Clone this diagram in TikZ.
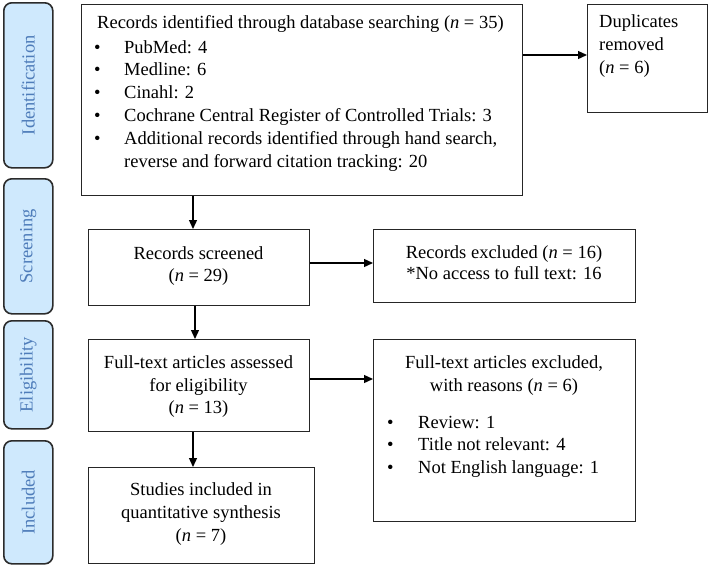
\documentclass[tikz,border=0pt]{standalone}
\usepackage{fontspec}
\setmainfont{Liberation Serif}
\usetikzlibrary{arrows.meta}
\definecolor{stagefill}{HTML}{CFE9FD}
\definecolor{stagetext}{HTML}{4F7DBA}
\definecolor{stagedraw}{HTML}{2B2B2B}
\definecolor{boxdraw}{HTML}{262626}
\newcommand{\diagfont}{\fontsize{18.5}{23}\selectfont}
\tikzset{
  stage/.style={draw=stagedraw, line width=1.6pt, fill=stagefill, rounded corners=8pt,
    anchor=north west, minimum width=49pt, inner sep=0pt},
  stagelabel/.style={text=stagetext, rotate=90, inner sep=0pt},
  box/.style={draw=boxdraw, line width=1.3pt, anchor=north west, inner sep=0pt},
  txt/.style={inner sep=0pt},
  arr/.style={line width=1.3pt, -{Triangle[length=9pt,width=8pt]}},
}
\begin{document}
\begin{tikzpicture}[x=1pt,y=-1pt,font=\diagfont]
\useasboundingbox (0,0) rectangle (709,565);
% stage labels
\node[stage, minimum height=165pt] (sid) at (3,2) {};
\node[stagelabel] (sidt) at (sid.center) {Identification};
\node[stage, minimum height=135pt] (sscr) at (3,178) {};
\node[stagelabel] (sscrt) at (sscr.center) {Screening};
\node[stage, minimum height=108pt] (selg) at (3,320) {};
\node[stagelabel] (selgt) at (selg.center) {Eligibility};
\node[stage, minimum height=123pt] (sinc) at (3,440) {};
\node[stagelabel] (sinct) at (sinc.center) {Included};
% boxes
\node[box, minimum width=441pt, minimum height=191pt] (id) at (81,4) {};
\node[box, minimum width=120pt, minimum height=108pt] (dup) at (587,4) {};
\node[box, minimum width=221pt, minimum height=76pt] (scr) at (88,229) {};
\node[box, minimum width=262pt, minimum height=73pt] (exc) at (373,229) {};
\node[box, minimum width=221pt, minimum height=92pt] (ft) at (88,339) {};
\node[box, minimum width=262pt, minimum height=182pt] (ftx) at (373,339) {};
\node[box, minimum width=226pt, minimum height=96pt] (inc) at (88,467) {};
% identification text
\node[txt, anchor=base west] (id0) at (97,28) {Records identified through database searching (\textit{n} = 35)};
\foreach \y/\t [count=\i] in {53/{PubMed: 4},75.5/{Medline: 6},98.5/{Cinahl: 2},121.5/{Cochrane Central Register of Controlled Trials: 3},144.5/{Additional records identified through hand search,}}{
  \node[txt, anchor=base west] (idb\i) at (94,\y) {\textbullet};
  \node[txt, anchor=base west] (idt\i) at (124,\y) {\t};
}
\node[txt, anchor=base west] (idt6) at (124,167) {reverse and forward citation tracking: 20};
% duplicates
\node[txt, anchor=base west] (dup1) at (599,27) {Duplicates};
\node[txt, anchor=base west] (dup2) at (599,50) {removed};
\node[txt, anchor=base west] (dup3) at (599,73) {(\textit{n} = 6)};
% screened
\node[txt, anchor=base] (scr1) at (198.5,259) {Records screened};
\node[txt, anchor=base] (scr2) at (198.5,281) {(\textit{n} = 29)};
% excluded
\node[txt, anchor=base] (exc1) at (504,258) {Records excluded (\textit{n} = 16)};
\node[txt, anchor=base] (exc2) at (504,279) {*No access to full text: 16};
% full text
\node[txt, anchor=base] (ft1) at (198.5,368) {Full-text articles assessed};
\node[txt, anchor=base] (ft2) at (198.5,391) {for eligibility};
\node[txt, anchor=base] (ft3) at (198.5,413) {(\textit{n} = 13)};
% full text excluded
\node[txt, anchor=base] (ftx1) at (504,368) {Full-text articles excluded,};
\node[txt, anchor=base] (ftx2) at (504,391) {with reasons (\textit{n} = 6)};
\foreach \y/\t [count=\i] in {428/{Review: 1},450.5/{Title not relevant: 4},473/{Not English language: 1}}{
  \node[txt, anchor=base west] (ftxb\i) at (387,\y) {\textbullet};
  \node[txt, anchor=base west] (ftxt\i) at (418,\y) {\t};
}
% included
\node[txt, anchor=base] (inc1) at (201,495) {Studies included in};
\node[txt, anchor=base] (inc2) at (201,518) {quantitative synthesis};
\node[txt, anchor=base] (inc3) at (201,541) {(\textit{n} = 7)};
% connectors
\coordinate (y55) at (0,55);
\coordinate (y263) at (0,263);
\coordinate (y379) at (0,379);
\coordinate (x193) at (193,0);
\coordinate (x195) at (195,0);
\draw[arr] (id.east |- y55) -- (dup.west |- y55);
\draw[arr] (x193 |- id.south) -- (x193 |- scr.north);
\draw[arr] (scr.east |- y263) -- (exc.west |- y263);
\draw[arr] (x195 |- scr.south) -- (x195 |- ft.north);
\draw[arr] (ft.east |- y379) -- (ftx.west |- y379);
\draw[arr] (x193 |- ft.south) -- (x193 |- inc.north);
\end{tikzpicture}
\end{document}
